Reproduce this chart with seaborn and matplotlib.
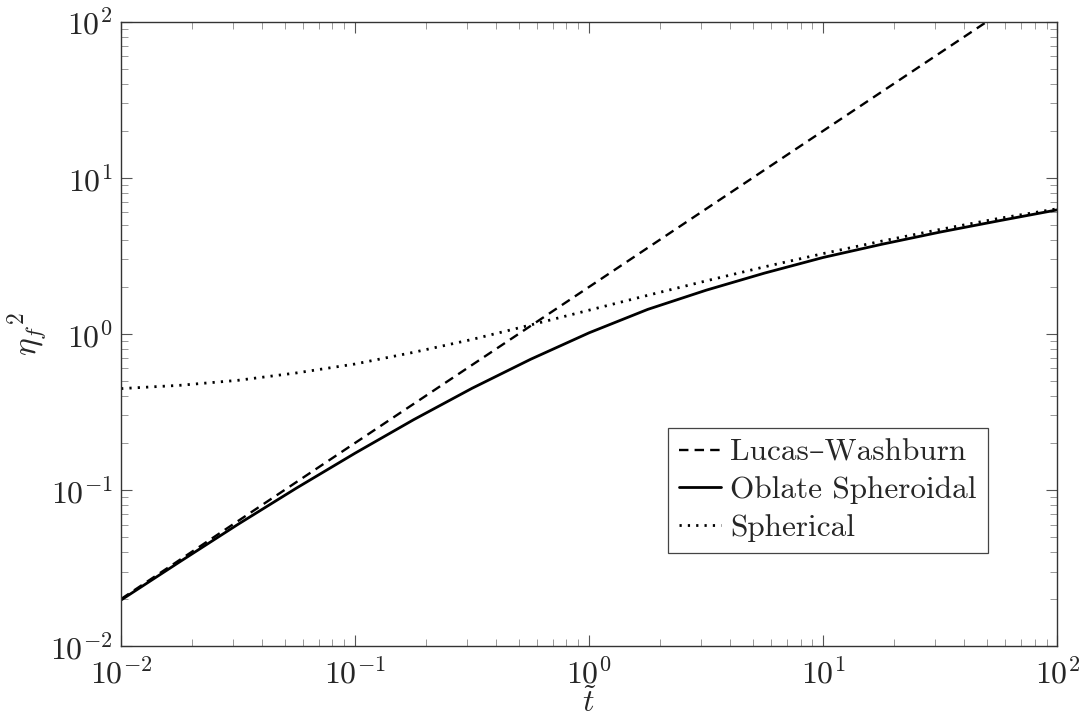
import matplotlib
matplotlib.use("Agg")
import matplotlib.pyplot as plt
import pandas as pd
import numpy as np
import seaborn as sns

# values (log-log axes)
t_lw = [0.01, 0.1, 1.0, 10.0, 100.0]
eta_lw = [0.02, 0.2, 2.0, 20.0, 200.0]

t_vals = [0.01, 0.0178, 0.0316, 0.0562, 0.1, 0.178, 0.316, 0.562, 1.0,
          1.78, 3.16, 5.62, 10.0, 17.8, 31.6, 56.2, 100.0]
eta_oblate = [0.0197, 0.0346, 0.0602, 0.1028, 0.172, 0.282, 0.448, 0.687, 1.016,
              1.435, 1.904, 2.452, 3.087, 3.75, 4.49, 5.30, 6.23]
eta_sphere = [0.446, 0.468, 0.504, 0.562, 0.641, 0.762, 0.921, 1.14, 1.419,
              1.766, 2.185, 2.69, 3.27, 3.93, 4.67, 5.49, 6.33]

labels = ["Lucas\u2013Washburn", "Oblate Spheroidal", "Spherical"]

sns.set_theme(style="ticks")
plt.rcParams["font.family"] = ["cmr10", "DejaVu Serif"]
plt.rcParams["mathtext.fontset"] = "cm"
plt.rcParams["axes.formatter.use_mathtext"] = True
plt.rcParams["axes.unicode_minus"] = False

fig = plt.figure(figsize=(10.81, 7.25), dpi=100)
ax = fig.add_axes([0.112, 0.109, 0.866, 0.861])

df_lw = pd.DataFrame({"t": t_lw, "eta": eta_lw})
df_ob = pd.DataFrame({"t": t_vals, "eta": eta_oblate})
df_sp = pd.DataFrame({"t": t_vals, "eta": eta_sphere})

sns.lineplot(data=df_lw, x="t", y="eta", ax=ax, color="black", lw=1.7,
             label=labels[0])
ax.lines[-1].set_dashes((4.0, 2.6))
sns.lineplot(data=df_ob, x="t", y="eta", ax=ax, color="black", lw=2.0,
             label=labels[1])
sns.lineplot(data=df_sp, x="t", y="eta", ax=ax, color="black", lw=2.0,
             label=labels[2])
ax.lines[-1].set_dashes((0.8, 2.2))

ax.set_xscale("log")
ax.set_yscale("log")
ax.set_xlim(1e-2, 1e2)
ax.set_ylim(1e-2, 1e2)

ax.set_xlabel(r"$\tilde{t}$", fontsize=23)
ax.xaxis.set_label_coords(0.5, -0.066)
ax.set_ylabel(r"${\eta_f}^2$", fontsize=24, labelpad=0)

ax.tick_params(which="both", direction="in", top=True, right=True,
               labelsize=23, color="#555555")
ax.tick_params(which="major", length=8, width=0.8, pad=6)
ax.tick_params(axis="x", which="major", pad=8)
ax.tick_params(which="minor", length=5, width=0.6, color="#888888")
for s in ax.spines.values():
    s.set_color("#333333")
    s.set_linewidth(1.0)

leg = ax.legend(loc="upper left", bbox_to_anchor=(0.584, 0.349),
                borderaxespad=0, fancybox=False, framealpha=1,
                edgecolor="#444444", fontsize=22.5, handlelength=1.35,
                handletextpad=0.3, borderpad=0.35, labelspacing=0.3)
leg.get_frame().set_linewidth(0.9)

plt.savefig("out.png", dpi=100)
